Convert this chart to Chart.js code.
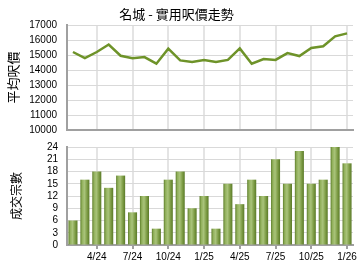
<!DOCTYPE html>
<html lang="zh-Hant">
<head>
  <meta charset="UTF-8">
  <title>名城 - 實用呎價走勢</title>
  <script src="https://cdn.jsdelivr.net/npm/chart.js"></script>
  <style>
    body { margin: 0; background: #fff; }
    .box { position: absolute; left: 0; width: 360px; height: 135px; }
  </style>
</head>
<body>
  <div class="box" style="top:0"><canvas id="price" width="360" height="135"></canvas></div>
  <div class="box" style="top:135px"><canvas id="deals" width="360" height="135"></canvas></div>

  <script>
    const months = ['2/24','3/24','4/24','5/24','6/24','7/24','8/24','9/24','10/24','11/24','12/24',
      '1/25','2/25','3/25','4/25','5/25','6/25','7/25','8/25','9/25','10/25','11/25','12/25','1/26'];
    const avgPrice = [15200,14800,15200,15700,14950,14780,14860,14420,15420,14640,14530,14670,
      14530,14670,15440,14420,14730,14670,15130,14930,15470,15580,16240,16440];
    const dealCount = [6,16,18,14,17,8,12,4,16,18,9,12,4,15,10,16,12,21,15,23,15,16,24,20];
    const shownMonths = ['4/24','7/24','10/24','1/25','4/25','7/25','10/25','1/26'];

    const cjk = '"Noto Sans CJK TC", "Noto Sans CJK SC", sans-serif';
    const num = { family: '"Liberation Sans", Arial, sans-serif', size: 10 };
    Chart.defaults.color = '#000';
    Chart.defaults.animation = false;

    const isShown = i => shownMonths.includes(months[i]);
    const xGrid = {
      offset: false,
      lineWidth: 2,
      color: c => isShown(c.index) ? '#e4e4e4' : 'transparent',
      tickColor: c => isShown(c.index) ? '#a0a0a0' : 'transparent'
    };
    const border = { color: '#a0a0a0', width: 2 };
    // fixed left axis width, and no extra room for the rotated title
    const fitY = s => { s.width = 67; s.paddingTop = 0; s.paddingBottom = 0; };

    new Chart(document.getElementById('price'), {
      type: 'line',
      data: {
        labels: months,
        datasets: [{ data: avgPrice, borderColor: '#6e9329', borderWidth: 2.5, pointRadius: 0, tension: 0 }]
      },
      options: {
        responsive: false,
        layout: { padding: { right: 7, bottom: 5 } },
        plugins: {
          legend: { display: false },
          tooltip: { enabled: false },
          title: {
            display: true, text: '名城 - 實用呎價走勢',
            font: { family: cjk, size: 13, weight: 'normal' },
            padding: { top: 6, bottom: 3.4 }
          }
        },
        scales: {
          x: {
            offset: true,
            afterFit: s => { s.height = 0; },
            grid: { ...xGrid, drawTicks: false },
            border,
            ticks: { display: false, autoSkip: false }
          },
          y: {
            min: 10000, max: 17000,
            afterFit: fitY,
            grid: { color: '#d9d9d9', drawTicks: false },
            border,
            ticks: { stepSize: 1000, padding: 10, font: num, callback: v => String(v) },
            title: { display: true, text: '平均呎價', font: { family: cjk, size: 13 }, padding: { top: 5 } }
          }
        }
      }
    });

    function barFill(ctx) {
      const ch = ctx.chart;
      if (!ch.chartArea) return '#8fae58';
      const x = ch.scales.x.getPixelForValue(ctx.dataIndex);
      const g = ch.ctx.createLinearGradient(x - 4.5, 0, x + 4.5, 0);
      g.addColorStop(0, '#5f7f2c');
      g.addColorStop(0.2, '#92b15c');
      g.addColorStop(0.45, '#a9c37a');
      g.addColorStop(0.75, '#7d9c45');
      g.addColorStop(1, '#5a7a28');
      return g;
    }

    new Chart(document.getElementById('deals'), {
      type: 'bar',
      data: {
        labels: months,
        datasets: [{ data: dealCount, backgroundColor: barFill, borderWidth: 0, barPercentage: 0.76, categoryPercentage: 1 }]
      },
      options: {
        responsive: false,
        layout: { padding: { top: 12, right: 7, bottom: 5 } },
        plugins: { legend: { display: false }, tooltip: { enabled: false } },
        scales: {
          x: {
            grid: { ...xGrid, tickLength: 4 },
            border,
            ticks: {
              autoSkip: false, maxRotation: 0, padding: 2, font: num,
              callback: (v, i) => isShown(i) ? months[i] : ''
            }
          },
          y: {
            min: 0, max: 24,
            afterFit: fitY,
            grid: { color: '#d9d9d9', drawTicks: false },
            border,
            ticks: { stepSize: 3, autoSkip: false, padding: 9, font: num },
            title: { display: true, text: '成交宗數', font: { family: cjk, size: 12 }, padding: { top: 9 } }
          }
        }
      }
    });
  </script>
</body>
</html>
